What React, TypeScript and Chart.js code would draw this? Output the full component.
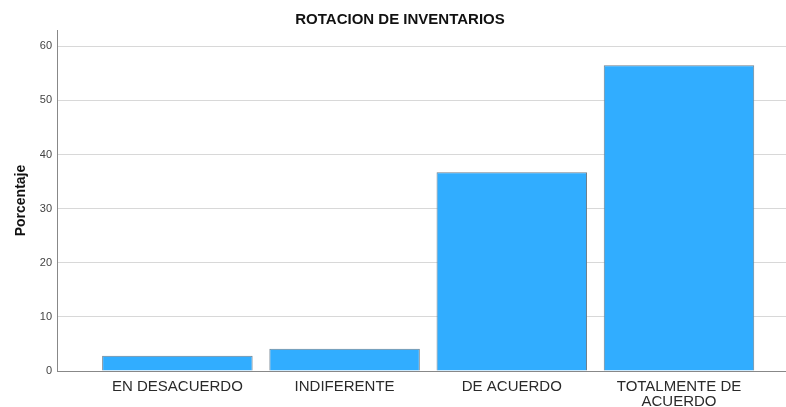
import React, { useEffect, useRef } from "react";
import { Chart, registerables } from "chart.js";

Chart.register(...registerables);

const categories = ["EN DESACUERDO", "INDIFERENTE", "DE ACUERDO", "TOTALMENTE DE\nACUERDO"];
const percentages = [2.8, 4.1, 36.7, 56.5];
const yTicks = [0, 10, 20, 30, 40, 50, 60];
const chartTitle = "ROTACION DE INVENTARIOS";
const yTitle = "Porcentaje";

export default function App() {
  const ref = useRef<HTMLCanvasElement | null>(null);

  useEffect(() => {
    if (!ref.current) return;
    const font = "'Liberation Sans', Arial, sans-serif";
    const chart = new Chart(ref.current, {
      type: "bar",
      data: {
        datasets: [
          {
            data: percentages.map((v, i) => ({ x: i, y: v })),
            backgroundColor: "#31adff",
            borderColor: "#6e7f8c",
            borderWidth: 1,
            barPercentage: 0.9,
            categoryPercentage: 1,
          },
        ],
      },
      options: {
        animation: false,
        responsive: false,
        layout: { padding: { left: 14, right: 0, top: 0, bottom: 0 } },
        plugins: {
          legend: { display: false },
          tooltip: { enabled: false },
          title: {
            display: true,
            text: chartTitle,
            color: "#111",
            font: { family: font, size: 15, weight: "bold" },
            padding: { top: 11, bottom: 1 },
          },
        },
        scales: {
          x: {
            type: "linear",
            offset: false,
            min: -0.72,
            max: 3.64,
            afterBuildTicks: (scale: any) => {
              scale.ticks = categories.map((_, i) => ({ value: i }));
            },
            afterFit: (scale: any) => {
              scale.height = 36;
            },
            grid: { display: false, drawTicks: false, offset: false },
            border: { display: true, color: "#888", width: 1 },
            ticks: {
              autoSkip: false,
              maxRotation: 0,
              padding: 8,
              color: "#2a2a2a",
              font: { family: font, size: 15, lineHeight: 1.0 },
              callback: (v: any) => {
                const idx = Math.round(Number(v));
                const s = categories[idx];
                return s ? s.split("\n") : "";
              },
            },
          },
          y: {
            min: 0,
            max: 63,
            afterBuildTicks: (scale: any) => {
              scale.ticks = yTicks.map((v) => ({ value: v }));
            },
            afterFit: (scale: any) => {
              scale.width = 43;
            },
            grid: { color: "#d8d8d8", lineWidth: 1, drawTicks: false },
            border: { display: true, color: "#888", width: 1 },
            ticks: {
              padding: 5,
              color: "#444",
              font: { family: font, size: 11 },
            },
            title: {
              display: true,
              text: yTitle,
              color: "#111",
              padding: 0,
              font: { family: font, size: 14, weight: "bold", lineHeight: 1.0 },
            },
          },
        },
      },
    });
    return () => chart.destroy();
  }, []);

  return (
    <div style={{ position: "fixed", left: 0, top: 0, width: 786, height: 407, background: "#fff" }}>
      <canvas ref={ref} width={786} height={407} />
    </div>
  );
}
